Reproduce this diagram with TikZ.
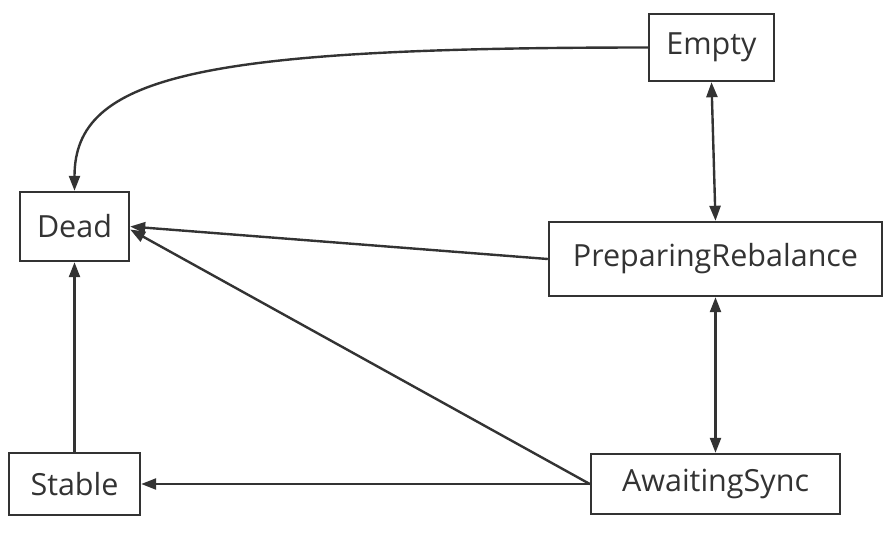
\documentclass[tikz,border=0pt]{standalone}
\usepackage{fontspec}
\setmainfont{Open Sans}
\usepackage{tikz}
\usetikzlibrary{arrows.meta,positioning,calc}
\definecolor{lineGray}{RGB}{51,51,51}
\tikzset{
  state/.style={draw=lineGray, line width=2.4pt, fill=white, text=lineGray,
    inner sep=0pt, font=\fontsize{30.5}{36}\selectfont},
  trans/.style={lineGray, line width=2.4pt, -{Triangle[length=15pt,width=11pt]}},
  both/.style={lineGray, line width=2.4pt, {Triangle[length=15pt,width=11pt]}-{Triangle[length=15pt,width=11pt]}}
}

\begin{document}
\begin{tikzpicture}[x=1pt, y=-1pt]
    \useasboundingbox (0,0) rectangle (892,542);
    % states
    \node[state, minimum width=125pt, minimum height=67pt] (empty) at (711.5, 47.5) {Empty};
    \node[state, minimum width=109pt, minimum height=69pt] (dead) at (74.5, 226.5) {Dead};
    \node[state, minimum width=333pt, minimum height=74pt] (prep) at (715.5, 259) {PreparingRebalance};
    \node[state, minimum width=131pt, minimum height=62pt] (stable) at (74.5, 484) {Stable};
    \node[state, minimum width=249pt, minimum height=60pt] (sync) at (715.5, 484) {AwaitingSync};
    % transitions
    \draw[trans] (empty.west) .. controls +(-450,0) and +(0,-115) .. (dead.north);
    \draw[both] (empty.south) -- (prep.north);
    \draw[both] (prep.south) -- (sync.north);
    \draw[trans] (prep.west) -- (dead.east);
    \draw[trans] (sync.west) -- ([yshift=-3pt]dead.east);
    \draw[trans] (sync.west) -- (stable.east);
    \draw[trans] (stable.north) -- (dead.south);
\end{tikzpicture}
\end{document}
